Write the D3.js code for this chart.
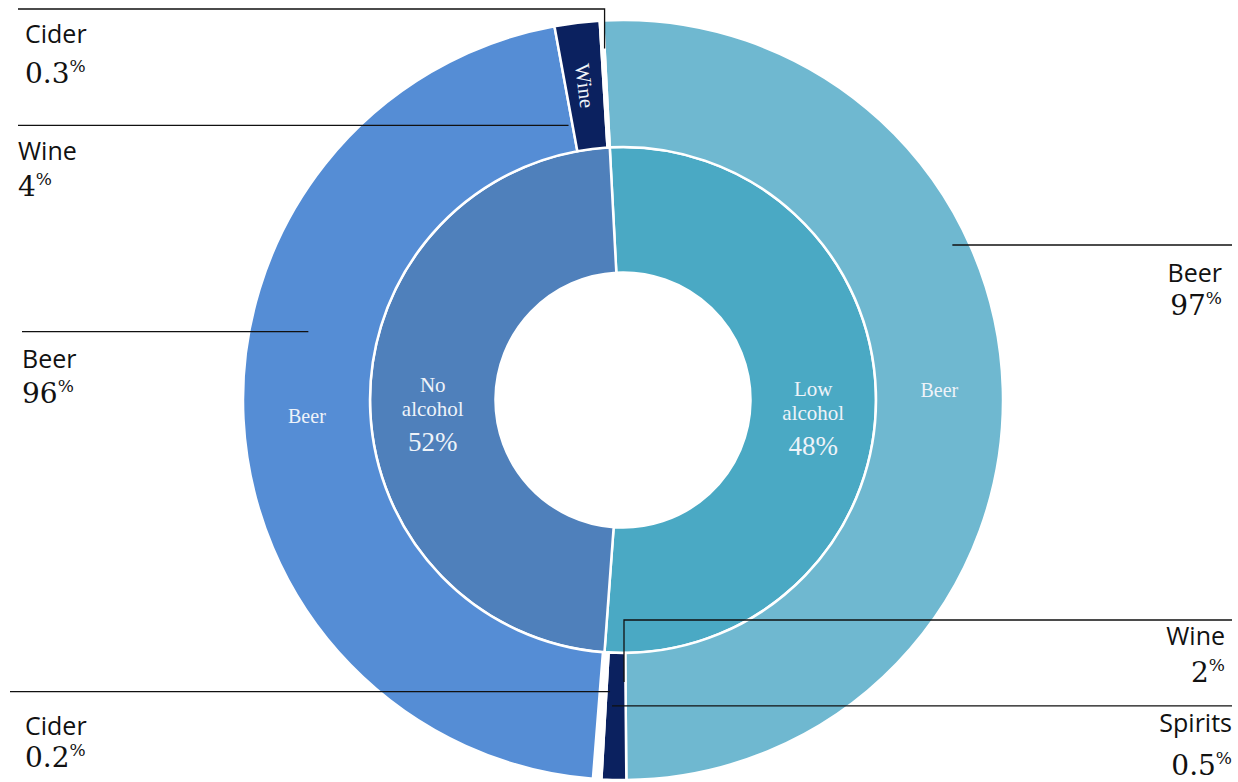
<!DOCTYPE html>
<html>
<head>
<meta charset="utf-8">
<script src="https://cdn.jsdelivr.net/npm/d3@7/dist/d3.min.js"></script>
<style>
  html, body { margin: 0; padding: 0; background: #ffffff; }
  svg { display: block; }
</style>
</head>
<body>
<svg id="chart" width="1238" height="782"></svg>
<script>
// ---------------- DATA ----------------
const innerCategories = ["Low alcohol", "No alcohol"];
const innerShares = [52, 48];            // arc sizes as drawn
const innerLabelText = ["48%", "52%"];   // labels printed on the inner ring

const lowDrinks = ["Beer", "Wine", "Spirits"];
const lowShares = [97, 2, 0.5];

const noDrinks = ["Cider", "Beer", "Wine", "Cider"];
const noShares = [0.2, 96, 4, 0.3];

// ---------------- LAYOUT / STYLE ----------------
const cx = 623, cy = 400;
const rHole = 127.5, rMid = 253, rOuter = 380;
const startDeg = -3.0;

const innerColors = { "Low alcohol": "#4aa9c4", "No alcohol": "#4f80bb" };
const outerColors = {
  "Low alcohol|Beer": "#6fb8d0",
  "Low alcohol|Wine": "#0b215f",
  "Low alcohol|Spirits": "#ffffff",
  "No alcohol|Beer": "#558dd5",
  "No alcohol|Wine": "#0b215f",
  "No alcohol|Cider0": "#6a9bdc",
  "No alcohol|Cider3": "#ffffff"
};

const sansFont = "'Open Sans', 'Noto Sans', sans-serif";
const serifFont = "Georgia, 'Liberation Serif', serif";
const numFont = "'DejaVu Serif', Georgia, serif";

const svg = d3.select("#chart");
const g = svg.append("g").attr("transform", `translate(${cx},${cy})`);

const toRad = d => d * Math.PI / 180;
const angle = d3.scaleLinear()
  .domain([0, d3.sum(innerShares)])
  .range([toRad(startDeg), toRad(startDeg) + 2 * Math.PI]);

// inner slices
let acc = 0;
const innerSlices = innerCategories.map((c, i) => {
  const s = { name: c, value: innerShares[i], a0: angle(acc), a1: angle(acc + innerShares[i]), idx: i };
  acc += innerShares[i];
  return s;
});

// outer slices (children share parent's angle proportionally)
const childSets = [
  { names: lowDrinks, values: lowShares },
  { names: noDrinks, values: noShares }
];
const outerSlices = [];
innerSlices.forEach((p, pi) => {
  const set = childSets[pi];
  const sub = d3.scaleLinear().domain([0, d3.sum(set.values)]).range([p.a0, p.a1]);
  let c = 0;
  set.names.forEach((n, j) => {
    outerSlices.push({
      parent: p.name, name: n, value: set.values[j], j,
      a0: sub(c), a1: sub(c + set.values[j])
    });
    c += set.values[j];
  });
});

function outerColor(d) {
  if (d.name === "Cider") return outerColors[d.parent + "|Cider" + (d.j === 0 ? "0" : "3")];
  return outerColors[d.parent + "|" + d.name];
}

const innerArc = d3.arc().innerRadius(rHole).outerRadius(rMid)
  .startAngle(d => d.a0).endAngle(d => d.a1);
const outerArc = d3.arc().innerRadius(rMid).outerRadius(rOuter)
  .startAngle(d => d.a0).endAngle(d => d.a1);

g.selectAll("path.inner").data(innerSlices).join("path")
  .attr("class", "inner")
  .attr("d", innerArc)
  .attr("fill", d => innerColors[d.name])
  .attr("stroke", "#ffffff").attr("stroke-width", 2.5);

g.selectAll("path.outer").data(outerSlices).join("path")
  .attr("class", "outer")
  .attr("d", outerArc)
  .attr("fill", outerColor)
  .attr("stroke", "#ffffff").attr("stroke-width", 2.5);

// inner labels
innerSlices.forEach(d => {
  const [x, y] = innerArc.centroid(d);
  const words = d.name.split(" ");
  const t = g.append("text")
    .attr("text-anchor", "middle")
    .attr("fill", "#eef3f9")
    .attr("font-family", serifFont);
  t.append("tspan").attr("x", x).attr("y", y - 6).attr("font-size", 21).text(words[0]);
  t.append("tspan").attr("x", x).attr("y", y + 18).attr("font-size", 21).text(words[1]);
  t.append("tspan").attr("x", x).attr("y", y + 53).attr("font-size", 27).text(innerLabelText[d.idx]);
});

// outer labels inside arcs
outerSlices.filter(d => d.name === "Beer").forEach(d => {
  const [x, y] = outerArc.centroid(d);
  g.append("text").attr("x", x).attr("y", y + 7)
    .attr("text-anchor", "middle")
    .attr("fill", "#eef3f9")
    .attr("font-family", serifFont).attr("font-size", 20)
    .text(d.name);
});
outerSlices.filter(d => d.name === "Wine" && d.parent === "No alcohol").forEach(d => {
  const [x, y] = outerArc.centroid(d);
  const mid = (d.a0 + d.a1) / 2 * 180 / Math.PI;
  g.append("text")
    .attr("transform", `translate(${x},${y}) rotate(${mid + 90})`)
    .attr("text-anchor", "middle").attr("dy", 7)
    .attr("fill", "#eef3f9")
    .attr("font-family", serifFont).attr("font-size", 21)
    .text(d.name);
});

// ---------------- CALLOUTS ----------------
// which: [parentIndex, childIndex]; t: position within slice; r: radius of anchor
const callouts = [
  { which: [1, 3], t: 1.0,   r: 352, side: "left",  elbowY: 9,    lineX: 18,   textX: 25,   nameDy: 34, numDy: 74 },
  { which: [1, 2], t: -0.12, r: 280, side: "left",  elbowY: null, lineX: 18,   textX: 18,   nameDy: 35, numDy: 71 },
  { which: [1, 1], t: 0.592, r: 322, side: "left",  elbowY: null, lineX: 22,   textX: 22,   nameDy: 36, numDy: 71 },
  { which: [1, 0], t: -4.8,  r: 292, side: "left",  elbowY: null, lineX: 10,   textX: 25,   nameDy: 43, numDy: 75 },
  { which: [0, 0], t: 0.3715,r: 364, side: "right", elbowY: null, lineX: 1232, textX: 1222, nameDy: 37, numDy: 70 },
  { which: [0, 1], t: 0.08,  r: 282, side: "right", elbowY: 620,  lineX: 1232, textX: 1225, nameDy: 25, numDy: 62 },
  { which: [0, 2], t: -1.28, r: 306, side: "right", elbowY: null, lineX: 1232, textX: 1232, nameDy: 26, numDy: 69 }
];

const calloutLayer = svg.append("g");
callouts.forEach(c => {
  const parent = innerSlices[c.which[0]].name;
  const d = outerSlices.filter(s => s.parent === parent)[c.which[1]];
  const a = d.a0 + c.t * (d.a1 - d.a0);
  const px = cx + c.r * Math.sin(a);
  const py = cy - c.r * Math.cos(a);
  const ly = c.elbowY === null ? py : c.elbowY;
  const pts = c.elbowY === null
    ? [[c.lineX, ly], [px, ly]]
    : [[c.lineX, ly], [px, ly], [px, py]];
  calloutLayer.append("path")
    .attr("d", d3.line()(pts))
    .attr("fill", "none").attr("stroke", "#111").attr("stroke-width", 1.3);

  const anchor = c.side === "left" ? "start" : "end";
  calloutLayer.append("text")
    .attr("x", c.textX).attr("y", ly + c.nameDy)
    .attr("text-anchor", anchor)
    .attr("font-family", sansFont).attr("font-size", 25).attr("fill", "#111")
    .text(d.name);
  const nt = calloutLayer.append("text")
    .attr("x", c.textX).attr("y", ly + c.numDy)
    .attr("text-anchor", anchor)
    .attr("font-family", numFont).attr("fill", "#111");
  nt.append("tspan").attr("font-size", 28).text(String(d.value));
  nt.append("tspan").attr("font-size", 17).attr("dy", -11).text("%");
});
</script>
</body>
</html>
